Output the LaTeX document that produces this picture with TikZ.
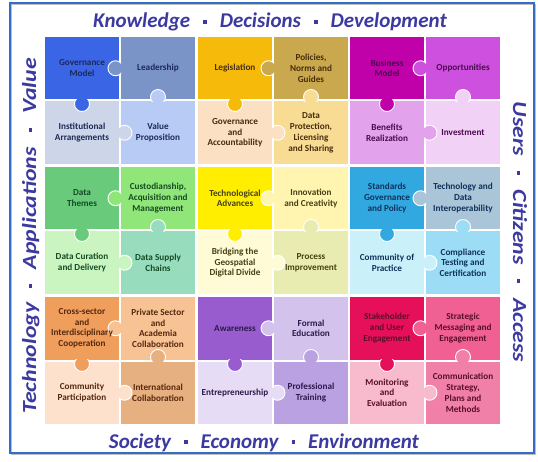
\documentclass[tikz,border=0pt]{standalone}
\usepackage{fontspec}
\usepackage{graphicx}
\newfontfamily\carlito{Carlito}
\definecolor{axc}{RGB}{60,58,160}
\definecolor{frm}{RGB}{50,110,195}
% block 1 (blue)
\definecolor{aA}{RGB}{58,102,230}\definecolor{aB}{RGB}{122,148,200}
\definecolor{aC}{RGB}{205,214,232}\definecolor{aD}{RGB}{184,203,244}
\definecolor{aT}{RGB}{28,40,90}
% block 2 (amber)
\definecolor{bA}{RGB}{246,186,10}\definecolor{bB}{RGB}{202,168,78}
\definecolor{bC}{RGB}{251,224,196}\definecolor{bD}{RGB}{248,220,148}
\definecolor{bT}{RGB}{70,45,15}
% block 3 (magenta)
\definecolor{cA}{RGB}{192,0,168}\definecolor{cB}{RGB}{206,80,222}
\definecolor{cC}{RGB}{226,162,236}\definecolor{cD}{RGB}{241,210,246}
\definecolor{cT}{RGB}{75,10,80}
% block 4 (green)
\definecolor{dA}{RGB}{104,202,122}\definecolor{dB}{RGB}{145,230,122}
\definecolor{dC}{RGB}{202,245,192}\definecolor{dD}{RGB}{152,220,190}
\definecolor{dT}{RGB}{20,75,35}
% block 5 (yellow)
\definecolor{eA}{RGB}{255,238,0}\definecolor{eB}{RGB}{255,245,176}
\definecolor{eC}{RGB}{255,251,214}\definecolor{eD}{RGB}{232,236,176}
\definecolor{eT}{RGB}{70,65,20}
% block 6 (cyan)
\definecolor{fA}{RGB}{50,168,225}\definecolor{fB}{RGB}{170,196,216}
\definecolor{fC}{RGB}{202,240,250}\definecolor{fD}{RGB}{156,220,245}
\definecolor{fT}{RGB}{15,50,90}
% block 7 (orange)
\definecolor{gA}{RGB}{240,158,92}\definecolor{gB}{RGB}{247,194,148}
\definecolor{gC}{RGB}{253,225,205}\definecolor{gD}{RGB}{230,176,128}
\definecolor{gT}{RGB}{85,40,15}
% block 8 (purple)
\definecolor{hA}{RGB}{152,92,206}\definecolor{hB}{RGB}{210,194,236}
\definecolor{hC}{RGB}{230,220,245}\definecolor{hD}{RGB}{186,162,226}
\definecolor{hT}{RGB}{45,25,75}
% block 9 (pink)
\definecolor{iA}{RGB}{230,16,90}\definecolor{iB}{RGB}{240,96,146}
\definecolor{iC}{RGB}{248,186,205}\definecolor{iD}{RGB}{240,128,168}
\definecolor{iT}{RGB}{90,15,40}
\newcommand\axdot{\hspace{0.62em}\rule[0.2em]{0.17em}{0.17em}\hspace{0.62em}}
% #1 prefix, #2 X, #3 Y, #4-#7 colours TL TR BL BR
\newcommand\tiles[7]{%
  \node[tile,fill=#4] (#1a) at ({#2+37},{#3+31.25}) {};
  \node[tile,fill=#5] (#1b) at ({#2+113},{#3+31.25}) {};
  \node[tile,fill=#6] (#1c) at ({#2+37},{#3+95.75}) {};
  \node[tile,fill=#7] (#1d) at ({#2+113},{#3+95.75}) {};
  \begin{scope}\clip ({#2},{#3}) rectangle ({#2+76},{#3+62.5});
    \draw[knob,fill=#5] ({#2+70.5},{#3+31.25}) circle (7.5pt);\end{scope}
  \begin{scope}\clip ({#2},{#3+62.5}) rectangle ({#2+74},{#3+127});
    \draw[knob,fill=#4] ({#2+37},{#3+67}) circle (7.5pt);\end{scope}
  \begin{scope}\clip ({#2+74},{#3}) rectangle ({#2+150},{#3+64.5});
    \draw[knob,fill=#7] ({#2+113},{#3+60}) circle (7.5pt);\end{scope}
  \begin{scope}\clip ({#2+74},{#3+64.5}) rectangle ({#2+150},{#3+127});
    \draw[knob,fill=#6] ({#2+79.5},{#3+95.75}) circle (7.5pt);\end{scope}
}
\begin{document}
\begin{tikzpicture}[x=1pt,y=-1pt,
  tile/.style={rectangle,draw=none,inner sep=0pt,minimum width=74pt,minimum height=62.5pt},
  knob/.style={draw=white,line width=0.9pt},
  tt/.style={font=\carlito\bfseries\fontsize{9.2}{10.8}\selectfont,align=center,inner sep=0pt},
  ax/.style={font=\carlito\bfseries\itshape\fontsize{21}{24}\selectfont,text=axc,inner sep=0pt},
  axs/.style={font=\carlito\bfseries\itshape\fontsize{20}{24}\selectfont,text=axc,inner sep=0pt}]
\useasboundingbox (0,0) rectangle (538,462);
\fill[white] (0,0) rectangle (538,462);
\draw[line width=1.6pt,black!25] (11.5,4.5) rectangle (535.5,454.5);
\draw[line width=1.6pt,frm] (10,3) rectangle (534,453);
% blocks
\tiles{A}{45}{37}{aA}{aB}{aC}{aD}
\tiles{B}{198}{37}{bA}{bB}{bC}{bD}
\tiles{C}{350}{37}{cA}{cB}{cC}{cD}
\tiles{D}{45}{167}{dA}{dB}{dC}{dD}
\tiles{E}{198}{167}{eA}{eB}{eC}{eD}
\tiles{F}{350}{167}{fA}{fB}{fC}{fD}
\tiles{G}{45}{297}{gA}{gB}{gC}{gD}
\tiles{H}{198}{297}{hA}{hB}{hC}{hD}
\tiles{I}{350}{297}{iA}{iB}{iC}{iD}
% texts
\node[tt,text=aT] (tA1) at (Aa) {Governance\\Model};
\node[tt,text=aT] (tA2) at (Ab) {Leadership};
\node[tt,text=aT] (tA3) at (Ac) {Institutional\\Arrangements};
\node[tt,text=aT] (tA4) at (Ad) {Value\\Proposition};
\node[tt,text=bT] (tB1) at (Ba) {Legislation};
\node[tt,text=bT] (tB2) at (Bb) {Policies,\\Norms and\\Guides};
\node[tt,text=bT] (tB3) at (Bc) {Governance\\and\\Accountability};
\node[tt,text=bT] (tB4) at (Bd) {Data\\Protection,\\Licensing\\and Sharing};
\node[tt,text=cT] (tC1) at (Ca) {Business\\Model};
\node[tt,text=cT] (tC2) at (Cb) {Opportunities};
\node[tt,text=cT] (tC3) at (Cc) {Benefits\\Realization};
\node[tt,text=cT] (tC4) at (Cd) {Investment};
\node[tt,text=dT] (tD1) at (Da) {Data\\Themes};
\node[tt,text=dT] (tD2) at (Db) {Custodianship,\\Acquisition and\\Management};
\node[tt,text=dT] (tD3) at (Dc) {Data Curation\\and Delivery};
\node[tt,text=dT] (tD4) at (Dd) {Data Supply\\Chains};
\node[tt,text=eT] (tE1) at (Ea) {Technological\\Advances};
\node[tt,text=eT] (tE2) at (Eb) {Innovation\\and Creativity};
\node[tt,text=eT] (tE3) at (Ec) {Bridging the\\Geospatial\\Digital Divide};
\node[tt,text=eT] (tE4) at (Ed) {Process\\Improvement};
\node[tt,text=fT] (tF1) at (Fa) {Standards\\Governance\\and Policy};
\node[tt,text=fT] (tF2) at (Fb) {Technology and\\Data\\Interoperability};
\node[tt,text=fT] (tF3) at (Fc) {Community of\\Practice};
\node[tt,text=fT] (tF4) at (Fd) {Compliance\\Testing and\\Certification};
\node[tt,text=gT] (tG1) at (Ga) {Cross-sector\\and\\Interdisciplinary\\Cooperation};
\node[tt,text=gT] (tG2) at (Gb) {Private Sector\\and\\Academia\\Collaboration};
\node[tt,text=gT] (tG3) at (Gc) {Community\\Participation};
\node[tt,text=gT] (tG4) at (Gd) {International\\Collaboration};
\node[tt,text=hT] (tH1) at (Ha) {Awareness};
\node[tt,text=hT] (tH2) at (Hb) {Formal\\Education};
\node[tt,text=hT] (tH3) at (Hc) {Entrepreneurship};
\node[tt,text=hT] (tH4) at (Hd) {Professional\\Training};
\node[tt,text=iT] (tI1) at (Ia) {Stakeholder\\and User\\Engagement};
\node[tt,text=iT] (tI2) at (Ib) {Strategic\\Messaging and\\Engagement};
\node[tt,text=iT] (tI3) at (Ic) {Monitoring\\and\\Evaluation};
\node[tt,text=iT] (tI4) at (Id) {Communication\\Strategy,\\Plans and\\Methods};
% axis labels
\node[ax,anchor=base] (top) at (270,28) {Knowledge\axdot Decisions\axdot Development};
\node[ax,anchor=base] (bot) at (264,448) {Society\axdot Economy\axdot Environment};
\node[axs,anchor=base,rotate=90] (lft) at (36,236) {\scalebox{1.19}[1]{Technology\axdot Applications\axdot Value}};
\node[axs,anchor=base,rotate=-90] (rgt) at (513,232) {\scalebox{1.19}[1]{Users\axdot Citizens\axdot Access}};
\end{tikzpicture}
\end{document}
